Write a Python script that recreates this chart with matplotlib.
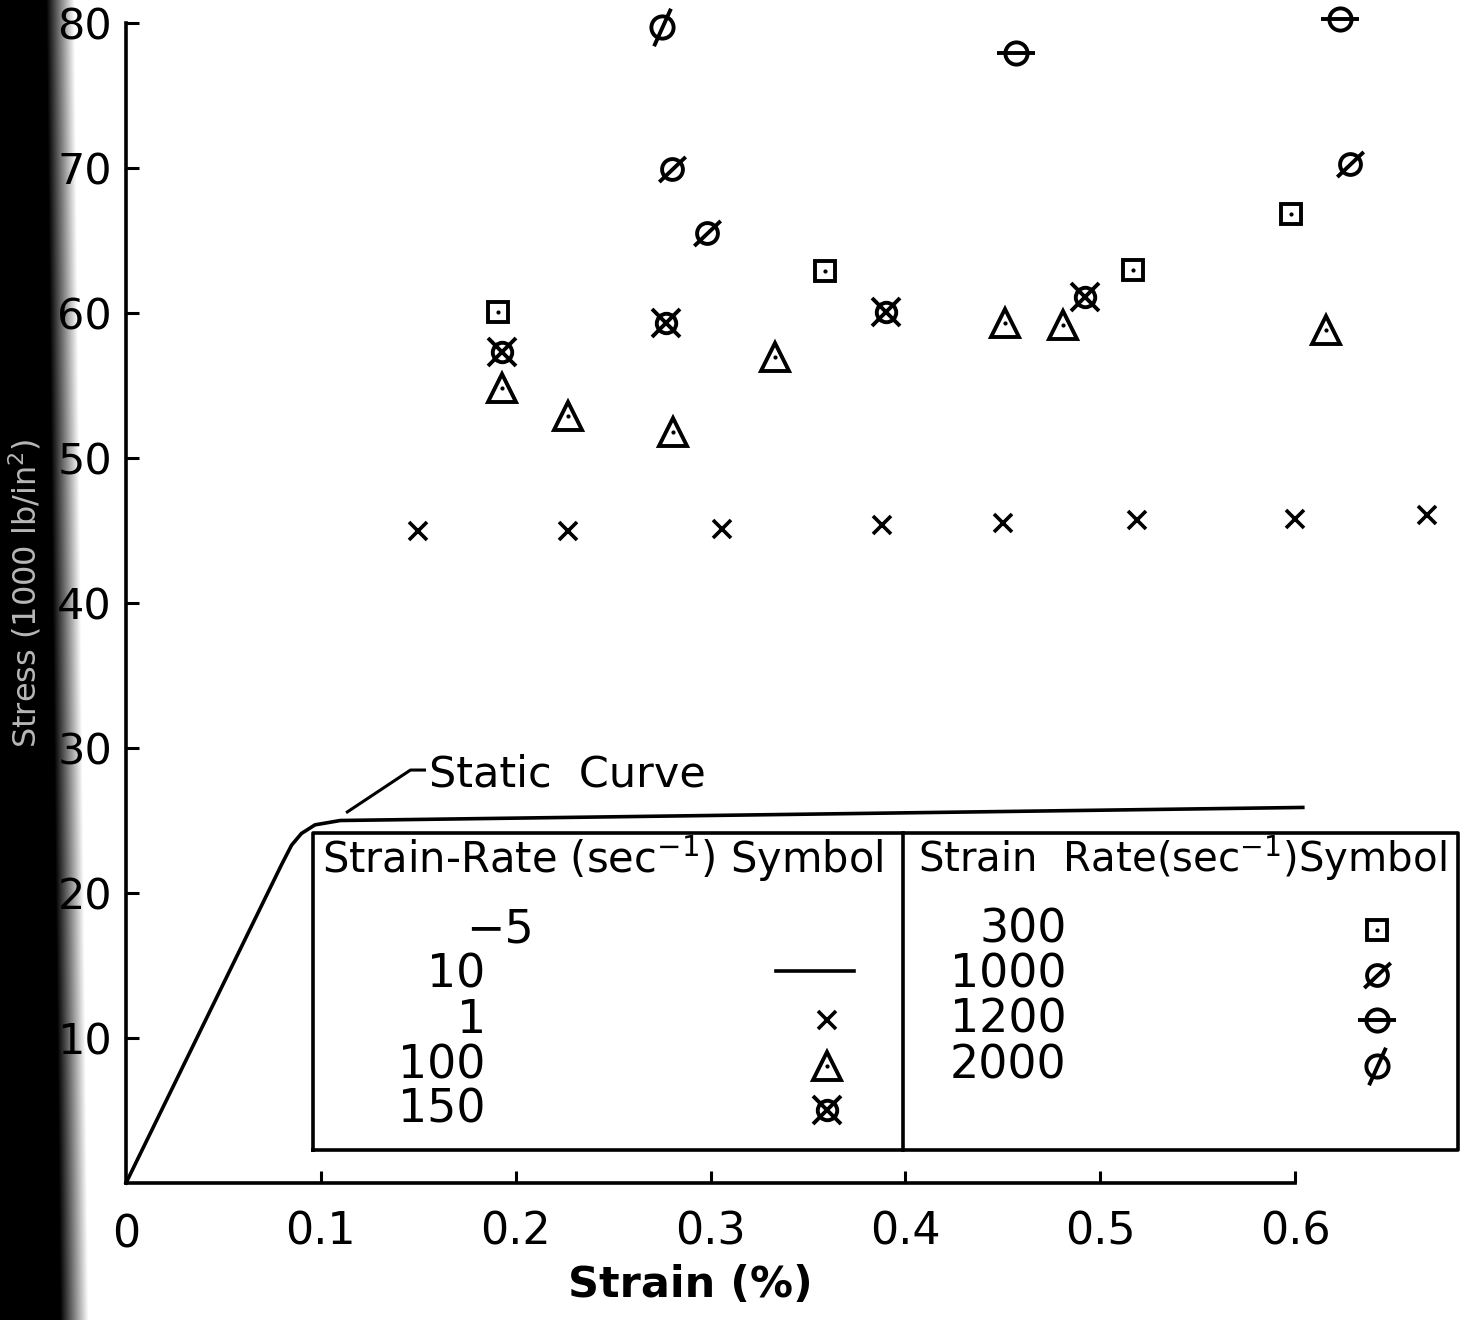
import numpy as np
import matplotlib.pyplot as plt

# static curve, strain (%) vs stress (1000 lb/in^2)
static_x = [0, 0.080, 0.085, 0.090, 0.097, 0.110, 0.604]
static_y = [0, 22.0, 23.3, 24.1, 24.7, 25.0, 25.9]

# strain-rate 1 /sec
rate1_x = [0.150, 0.227, 0.306, 0.388, 0.450, 0.519, 0.600, 0.668]
rate1_y = [45.0, 45.0, 45.1, 45.4, 45.5, 45.7, 45.8, 46.1]
# 100 /sec
rate100_x = [0.193, 0.227, 0.281, 0.333, 0.451, 0.481, 0.616]
rate100_y = [54.8, 52.9, 51.8, 57.0, 59.3, 59.2, 58.8]
# 150 /sec
rate150_x = [0.193, 0.277, 0.390, 0.492]
rate150_y = [57.3, 59.3, 60.1, 61.1]
# 300 /sec
rate300_x = [0.191, 0.359, 0.517, 0.598]
rate300_y = [60.1, 62.9, 63.0, 66.8]
# 1000 /sec
rate1000_x = [0.280, 0.298, 0.628]
rate1000_y = [69.9, 65.5, 70.3]
# 1200 /sec
rate1200_x = [0.457, 0.623]
rate1200_y = [77.9, 80.3]
# 2000 /sec
rate2000_x = [0.275]
rate2000_y = [79.7]

left_rates = ['10', '1', '100', '150']
right_rates = ['300', '1000', '1200', '2000']

xticks = [0.1, 0.2, 0.3, 0.4, 0.5, 0.6]
yticks = [10, 20, 30, 40, 50, 60, 70, 80]

plt.rcParams['font.family'] = ['DejaVu Sans']
plt.rcParams['mathtext.fontset'] = 'dejavusans'

slash_1000 = [(-1, -0.95), (1, 0.95)]
slash_2000 = [(-0.45, -1), (0.45, 1)]
K = 'k'
LW = 2.8


def draw(ax, kind, x, y):
    kw = dict(ls='none', color=K, clip_on=False, zorder=4)
    if kind == 'x':
        ax.plot(x, y, marker='x', ms=13, mew=2.6, **kw)
    elif kind == 'tri':
        ax.plot(x, y, marker='^', ms=20, mew=LW, mfc='white', **kw)
        ax.plot(x, y, marker='o', ms=3, mew=0, **kw)
    elif kind == 'cx':
        ax.plot(x, y, marker='o', ms=14, mew=LW, mfc='none', **kw)
        ax.plot(x, y, marker='x', ms=20, mew=LW, **kw)
    elif kind == 'sq':
        ax.plot(x, y, marker='s', ms=15, mew=LW, mfc='white', **kw)
        ax.plot(x, y, marker='o', ms=3, mew=0, **kw)
    elif kind == 'o1000':
        ax.plot(x, y, marker='o', ms=15, mew=LW, mfc='none', **kw)
        ax.plot(x, y, marker=slash_1000, ms=19, mew=LW, **kw)
    elif kind == 'theta':
        ax.plot(x, y, marker='o', ms=16, mew=LW, mfc='none', **kw)
        ax.plot(x, y, marker='_', ms=27, mew=LW, **kw)
    elif kind == 'phi':
        ax.plot(x, y, marker='o', ms=16, mew=LW, mfc='none', **kw)
        ax.plot(x, y, marker=slash_2000, ms=27, mew=LW, **kw)


fig = plt.figure(figsize=(14.62, 13.2), dpi=100)

# dark scan shadow on the left edge
band = fig.add_axes([0, 0, 120 / 1462, 1], zorder=-1)
rows = np.arange(1320)[:, None]
cols = np.arange(120)[None, :]
edge = 60 + 14 * rows / 1320
alpha = np.clip((edge + 14 - cols) / 28, 0, 1)
img = np.zeros((1320, 120, 4))
img[..., 3] = alpha
band.imshow(img, aspect='auto', extent=[0, 120, 1320, 0])
band.axis('off')

ax = fig.add_axes([126 / 1462, 137 / 1320, 1169 / 1462, 1160 / 1320])
ax.set_xlim(0, 0.6)
ax.set_ylim(0, 80)
ax.patch.set_alpha(0)
for s in ['top', 'right']:
    ax.spines[s].set_visible(False)
for s in ['left', 'bottom']:
    ax.spines[s].set_linewidth(2.6)
ax.set_xticks(xticks)
ax.set_yticks(yticks)
ax.set_xticklabels([f'{t:g}' for t in xticks])
ax.set_yticklabels([str(t) for t in yticks])
ax.tick_params(direction='in', length=9, width=2.2)
ax.tick_params(axis='x', pad=20, labelsize=32)
ax.tick_params(axis='y', pad=10, labelsize=31)
ax.text(0, -2.1, '0', fontsize=32, ha='center', va='top')

# static curve and its label
ax.plot(static_x, static_y, color=K, lw=2.6, clip_on=False, zorder=3)
ax.plot([0.1136, 0.1460, 0.1532], [25.59, 28.48, 28.48], color=K, lw=2.2, clip_on=False)
ax.text(0.1553, 28.14, 'Static  Curve', fontsize=31, va='center', ha='left')

# data points
draw(ax, 'x', rate1_x, rate1_y)
draw(ax, 'tri', rate100_x, rate100_y)
draw(ax, 'cx', rate150_x, rate150_y)
draw(ax, 'sq', rate300_x, rate300_y)
draw(ax, 'o1000', rate1000_x, rate1000_y)
draw(ax, 'theta', rate1200_x, rate1200_y)
draw(ax, 'phi', rate2000_x, rate2000_y)

# legend table
bx0, bx1, by0, by1, bdiv = 0.0961, 0.6838, 2.28, 24.14, 0.399
ax.plot([bx0, bx1, bx1, bx0, bx0], [by0, by0, by1, by1, by0], color=K, lw=2.6, clip_on=False)
ax.plot([bdiv, bdiv], [by0, by1], color=K, lw=2.6, clip_on=False)
ax.text(0.1008, 22.4, 'Strain-Rate (sec$^{-1}$) Symbol', fontsize=30, va='center', ha='left')
ax.text(0.4067, 22.4, 'Strain  Rate(sec$^{-1}$)Symbol', fontsize=29, va='center', ha='left')

row_y = [17.45, 14.34, 11.24, 8.07, 5.03]
ax.text(0.2092, row_y[0], '\u2212' + '5', fontsize=33, va='center', ha='right')
for i, lab in enumerate(left_rates):
    ax.text(0.1846, row_y[i + 1], lab, fontsize=33, va='center', ha='right')
for i, lab in enumerate(right_rates):
    ax.text(0.4828, row_y[i], lab, fontsize=33, va='center', ha='right')

ax.plot([0.3337, 0.3738], [row_y[1] + 0.3, row_y[1] + 0.3], color=K, lw=2.6, clip_on=False)
draw(ax, 'x', [0.360], [row_y[2]])
draw(ax, 'tri', [0.360], [row_y[3]])
draw(ax, 'cx', [0.360], [row_y[4]])
draw(ax, 'sq', [0.642], [row_y[0]])
draw(ax, 'o1000', [0.642], [row_y[1]])
draw(ax, 'theta', [0.642], [row_y[2]])
draw(ax, 'phi', [0.642], [row_y[3]])

fig.text(690 / 1462, 1 - 1285 / 1320, 'Strain (%)', fontsize=31, fontweight='bold',
         ha='center', va='center')
fig.text(25 / 1462, 1 - 593 / 1320, 'Stress (1000 lb/in$^2$)', fontsize=23, color='#b8b8b8',
         rotation=90, ha='center', va='center')

fig.savefig('out.png', dpi=100)
